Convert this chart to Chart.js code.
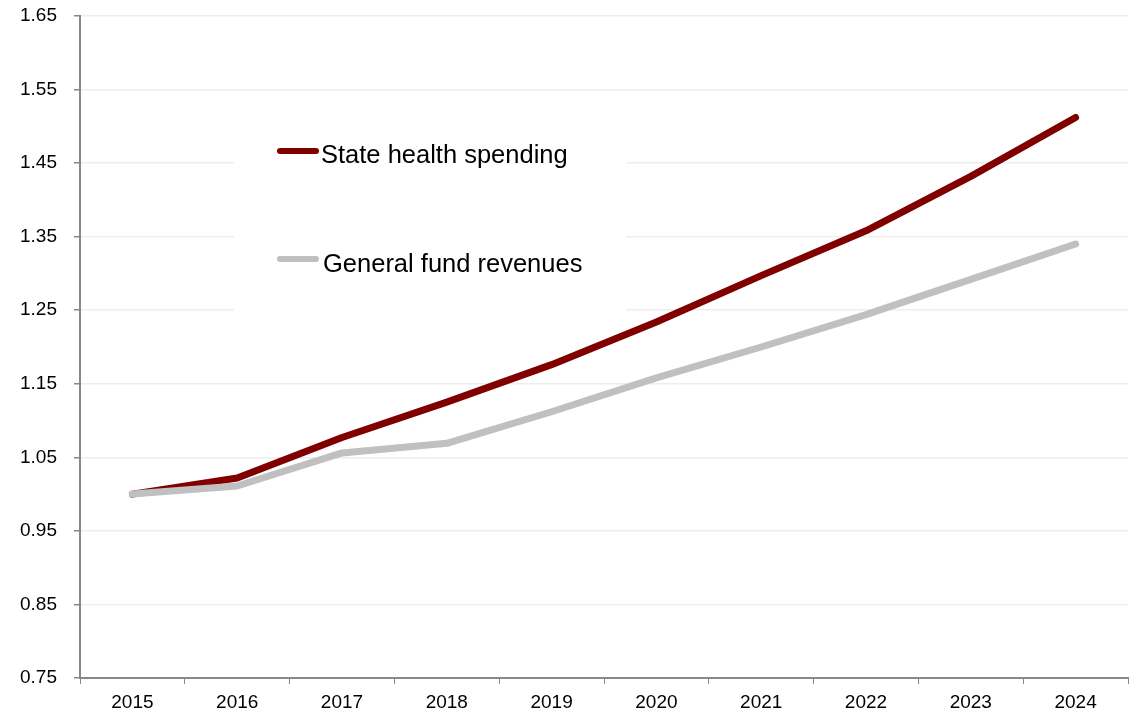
<!DOCTYPE html>
<html lang="en">
<head>
    <meta charset="UTF-8">
    <title>State health spending vs. general fund revenues</title>
    <script src="https://cdn.jsdelivr.net/npm/chart.js"></script>
    <style>
        html, body { margin: 0; padding: 0; background: #fff; }
        #wrap { width: 1135px; height: 712px; }
    </style>
</head>
<body>
    <div id="wrap"><canvas id="growthChart" width="1135" height="712"></canvas></div>

    <script>
        // Index, 2015 = 1.00
        var years = ['2015', '2016', '2017', '2018', '2019', '2020', '2021', '2022', '2023', '2024'];
        var healthSpending = [1.000, 1.022, 1.077, 1.125, 1.176, 1.234, 1.297, 1.358, 1.432, 1.512];
        var fundRevenues = [1.000, 1.011, 1.056, 1.069, 1.112, 1.158, 1.200, 1.244, 1.292, 1.340];
        var yTicks = [0.75, 0.85, 0.95, 1.05, 1.15, 1.25, 1.35, 1.45, 1.55, 1.65];
        var seriesNames = ['State health spending', 'General fund revenues'];

        var FONT = "'Liberation Sans', Arial, sans-serif";

        // legend sits inside the plot on a white box
        var insideLegend = {
            id: 'insideLegend',
            beforeDatasetsDraw: function (chart) {
                var ctx = chart.ctx;
                ctx.save();
                ctx.fillStyle = '#ffffff';
                ctx.fillRect(234, 100, 392, 222);
                var rows = [
                    { y: 151, textX: 321, base: 163 },
                    { y: 259, textX: 323, base: 272 }
                ];
                chart.data.datasets.forEach(function (ds, i) {
                    var r = rows[i];
                    ctx.strokeStyle = ds.borderColor;
                    ctx.lineWidth = 6;
                    ctx.lineCap = 'round';
                    ctx.beginPath();
                    ctx.moveTo(280, r.y);
                    ctx.lineTo(316, r.y);
                    ctx.stroke();
                    ctx.fillStyle = '#000';
                    ctx.font = '25.5px ' + FONT;
                    ctx.textBaseline = 'alphabetic';
                    ctx.fillText(ds.label, r.textX, r.base);
                });
                ctx.restore();
            }
        };

        var ctx = document.getElementById('growthChart').getContext('2d');
        var growthChart = new Chart(ctx, {
            type: 'line',
            data: {
                labels: years,
                datasets: [
                    {
                        label: seriesNames[0],
                        data: healthSpending,
                        borderColor: '#800000',
                        borderWidth: 7,
                        order: 1
                    },
                    {
                        label: seriesNames[1],
                        data: fundRevenues,
                        borderColor: '#c0c0c0',
                        borderWidth: 7,
                        order: 0
                    }
                ]
            },
            options: {
                responsive: false,
                animation: false,
                layout: { padding: { top: 16, right: 7, left: 0, bottom: 0 } },
                elements: {
                    point: { radius: 0, hoverRadius: 0 },
                    line: { tension: 0, borderCapStyle: 'round', borderJoinStyle: 'round' }
                },
                plugins: {
                    legend: { display: false },
                    tooltip: { enabled: false }
                },
                scales: {
                    x: {
                        offset: true,
                        grid: {
                            offset: true,
                            drawOnChartArea: false,
                            drawTicks: true,
                            tickLength: 6,
                            tickColor: '#888'
                        },
                        border: { color: '#888', width: 2 },
                        ticks: {
                            color: '#000',
                            padding: 7,
                            maxRotation: 0,
                            font: { family: FONT, size: 19 }
                        },
                        afterFit: function (scale) { scale.height = 34; }
                    },
                    y: {
                        min: 0.75,
                        max: 1.65,
                        grid: {
                            color: '#eeeeee',
                            lineWidth: 1.5,
                            tickLength: 6,
                            tickColor: '#888'
                        },
                        border: { color: '#888', width: 2 },
                        ticks: {
                            color: '#000',
                            padding: 17,
                            font: { family: FONT, size: 19 },
                            callback: function (v) { return Number(v).toFixed(2); }
                        },
                        afterBuildTicks: function (scale) {
                            scale.ticks = yTicks.map(function (v) { return { value: v }; });
                        },
                        afterFit: function (scale) {
                            scale.width = 80;
                            scale.paddingTop = 0;
                            scale.paddingBottom = 0;
                        }
                    }
                }
            },
            plugins: [insideLegend]
        });
    </script>
</body>
</html>
